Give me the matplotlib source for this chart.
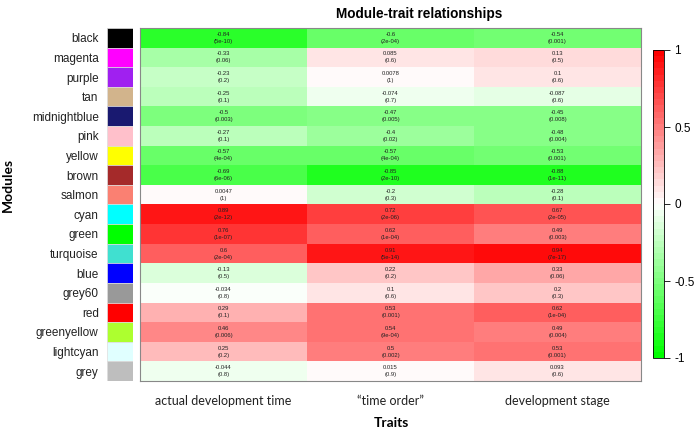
import numpy as np
import matplotlib
matplotlib.use("Agg")
import matplotlib.pyplot as plt
from matplotlib.colors import LinearSegmentedColormap

# ── data ──────────────────────────────────────────────────────────────────
modules = ["black", "magenta", "purple", "tan", "midnightblue", "pink", "yellow",
           "brown", "salmon", "cyan", "green", "turquoise", "blue", "grey60",
           "red", "greenyellow", "lightcyan", "grey"]
module_colors = ["#000000", "#FF00FF", "#A020F0", "#D2B48C", "#191970", "#FFC0CB",
                 "#FFFF00", "#A52A2A", "#FA8072", "#00FFFF", "#00FF00", "#40E0D0",
                 "#0000FF", "#999999", "#FF0000", "#ADFF2F", "#E0FFFF", "#BEBEBE"]
traits = ["actual development time", "\u201ctime order\u201d", "development stage"]

cor_time = [-0.84, -0.33, -0.23, -0.25, -0.5, -0.27, -0.57, -0.69, 0.0047,
            0.89, 0.76, 0.6, -0.13, -0.034, 0.29, 0.46, 0.25, -0.044]
p_time = ["5e-10", "0.06", "0.2", "0.1", "0.003", "0.1", "4e-04", "6e-06", "1",
          "2e-12", "1e-07", "2e-04", "0.5", "0.8", "0.1", "0.006", "0.2", "0.8"]
cor_order = [-0.6, 0.085, 0.0078, -0.074, -0.47, -0.4, -0.57, -0.85, -0.2,
             0.72, 0.62, 0.91, 0.22, 0.1, 0.53, 0.54, 0.5, 0.015]
p_order = ["2e-04", "0.6", "1", "0.7", "0.005", "0.02", "4e-04", "2e-10", "0.3",
           "2e-06", "1e-04", "5e-14", "0.2", "0.6", "0.001", "9e-04", "0.002", "0.9"]
cor_stage = [-0.54, 0.13, 0.1, -0.087, -0.45, -0.48, -0.53, -0.88, -0.28,
             0.67, 0.49, 0.94, 0.33, 0.2, 0.62, 0.49, 0.53, 0.093]
p_stage = ["0.001", "0.5", "0.6", "0.6", "0.008", "0.004", "0.001", "1e-11", "0.1",
           "2e-05", "0.003", "7e-17", "0.06", "0.3", "1e-04", "0.004", "0.001", "0.6"]

cors = np.array([cor_time, cor_order, cor_stage]).T
pvals = [p_time, p_order, p_stage]

cmap = LinearSegmentedColormap.from_list("gwr", ["#00FF00", "#FFFFFF", "#FF0000"], N=50)

fig = plt.figure(figsize=(6.97, 4.30), dpi=100)
W, H = 697, 430

def frac(x0, y0, x1, y1):
    return [x0 / W, 1 - y1 / H, (x1 - x0) / W, (y1 - y0) / H]

# ── heatmap ───────────────────────────────────────────────────────────────
ax = fig.add_axes(frac(140, 28, 641, 381))
n = len(modules)
mesh = ax.pcolormesh(np.arange(4), np.arange(n + 1), cors, cmap=cmap, vmin=-1, vmax=1)
ax.set_xlim(0, 3)
ax.set_ylim(n, 0)
for i in range(n):
    for j in range(3):
        v = cors[i, j]
        ax.text(j + 0.5, i + 0.5, f"{v:.2g}\n({pvals[j][i]})", ha="center", va="center",
                fontsize=4.2, family="Liberation Sans", linespacing=1.5, color="#222222")
ax.set_yticks([])
ax.set_xticks(np.arange(3) + 0.5)
ax.set_xticklabels(traits, fontsize=9, family="Lato", color="#222222")
ax.tick_params(axis="x", length=0, pad=10)
for s in ax.spines.values():
    s.set_color("#888888")
    s.set_linewidth(0.8)

# ── module colour bar ─────────────────────────────────────────────────────
axc = fig.add_axes(frac(107, 28, 133, 381))
for i, c in enumerate(module_colors):
    axc.add_patch(plt.Rectangle((0, i), 1, 1, facecolor=c, edgecolor="#dddddd", lw=0.5))
axc.set_xlim(0, 1)
axc.set_ylim(n, 0)
axc.set_xticks([])
axc.set_yticks(np.arange(n) + 0.5)
axc.set_yticklabels(modules, fontsize=8.5, family="Liberation Sans", color="#222222")
axc.tick_params(axis="y", length=0, pad=6)
for s in axc.spines.values():
    s.set_visible(False)

# ── colour scale ──────────────────────────────────────────────────────────
axs = fig.add_axes(frac(653, 50, 664, 358))
cb = fig.colorbar(mesh, cax=axs, ticks=[-1, -0.5, 0, 0.5, 1])
cb.ax.set_yticklabels(["-1", "-0.5", "0", "0.5", "1"], fontsize=8.5, family="Liberation Sans")
cb.ax.tick_params(length=4, width=0.6)
cb.outline.set_linewidth(0.6)

fig.text(419 / W, 1 - 14 / H, "Module-trait relationships", ha="center", va="center",
         fontsize=9.8, fontweight="bold", family="Liberation Sans")
fig.text(8 / W, 1 - 185 / H, "Modules", rotation=90, ha="center", va="center",
         fontsize=10, fontweight="bold", family="Lato")
fig.text(391 / W, 1 - 423 / H, "Traits", ha="center", va="center",
         fontsize=10, fontweight="bold", family="Lato")

fig.savefig("out.png", dpi=100)
